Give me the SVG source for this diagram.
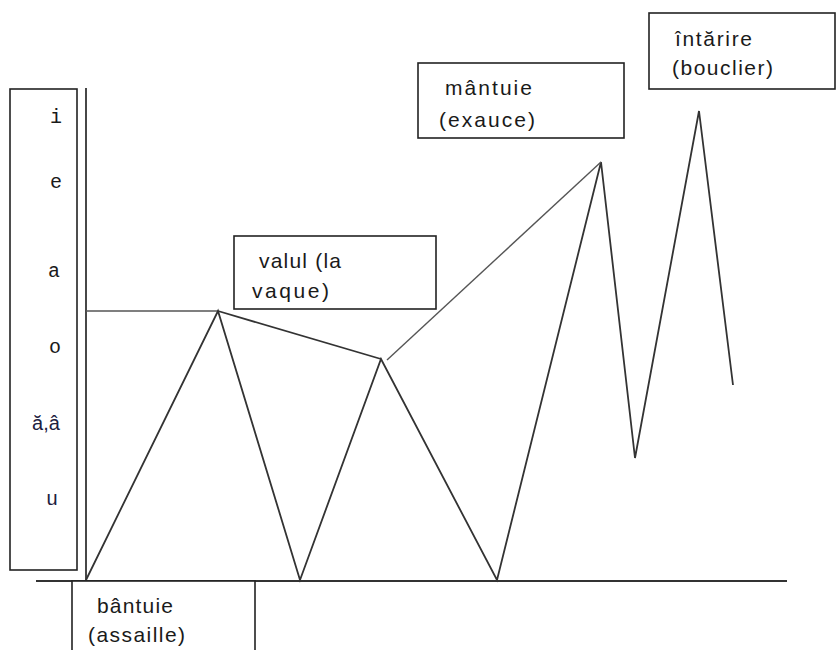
<svg xmlns="http://www.w3.org/2000/svg" width="836" height="650" viewBox="0 0 836 650">
  <style>
    .box { fill: #ffffff; stroke: #222222; stroke-width: 1.6; }
    .lbl { font-family: "Liberation Sans", Arial, sans-serif; font-size: 21px; fill: #1a1a1a; }
    .mono { font-family: "Liberation Mono", "Courier New", monospace; font-size: 20px; fill: #1a1a1a; }
    .vow { font-family: "Liberation Sans", Arial, sans-serif; font-size: 20px; fill: #1c2040; }
    .ln { fill: none; stroke: #333333; stroke-width: 1.8; stroke-linejoin: miter; }
    .thin { fill: none; stroke: #555555; stroke-width: 1.4; }
  </style>
  <rect width="836" height="650" fill="#ffffff"/>

  <g id="connectors">
    <line class="ln" x1="86" y1="88" x2="86" y2="581"/>
    <line class="ln" x1="36" y1="581" x2="787" y2="581"/>
    <line class="thin" x1="86" y1="311" x2="218" y2="311"/>
    <polyline class="ln" points="86,580 218,311 300,580 381,359 497,580 601,162 635,458 699,111 733,385"/>
    <line class="ln" x1="218" y1="311" x2="381" y2="359"/>
    <line class="thin" x1="387" y1="360" x2="601" y2="162"/>
  </g>

  <g id="scale">
    <rect class="box" x="10" y="89" width="67" height="481"/>
    <text class="mono" x="56" y="123" text-anchor="middle">i</text>
    <text class="mono" x="56" y="188" text-anchor="middle">e</text>
    <text class="mono" x="54" y="277" text-anchor="middle">a</text>
    <text class="mono" x="55" y="353" text-anchor="middle">o</text>
    <text class="vow" x="46" y="430" text-anchor="middle">ă,â</text>
    <text class="vow" x="52" y="505" text-anchor="middle">u</text>
  </g>

  <g id="node-valul">
    <rect class="box" x="234" y="236" width="202" height="73"/>
    <text class="lbl" x="259" y="268" textLength="82" lengthAdjust="spacing">valul (la</text>
    <text class="lbl" x="252" y="298" textLength="77" lengthAdjust="spacing">vaque)</text>
  </g>

  <g id="node-mantuie">
    <rect class="box" x="418" y="63" width="206" height="75"/>
    <text class="lbl" x="445" y="95" textLength="87" lengthAdjust="spacing">mântuie</text>
    <text class="lbl" x="439" y="127" textLength="96" lengthAdjust="spacing">(exauce)</text>
  </g>

  <g id="node-intarire">
    <rect class="box" x="649" y="13" width="186" height="76"/>
    <text class="lbl" x="675" y="46" textLength="77" lengthAdjust="spacing">întărire</text>
    <text class="lbl" x="672" y="75" textLength="101" lengthAdjust="spacing">(bouclier)</text>
  </g>

  <g id="node-bantuie">
    <rect class="box" x="72" y="581" width="183" height="80"/>
    <text class="lbl" x="97" y="613" textLength="76" lengthAdjust="spacing">bântuie</text>
    <text class="lbl" x="88" y="642" textLength="97" lengthAdjust="spacing">(assaille)</text>
  </g>
</svg>
